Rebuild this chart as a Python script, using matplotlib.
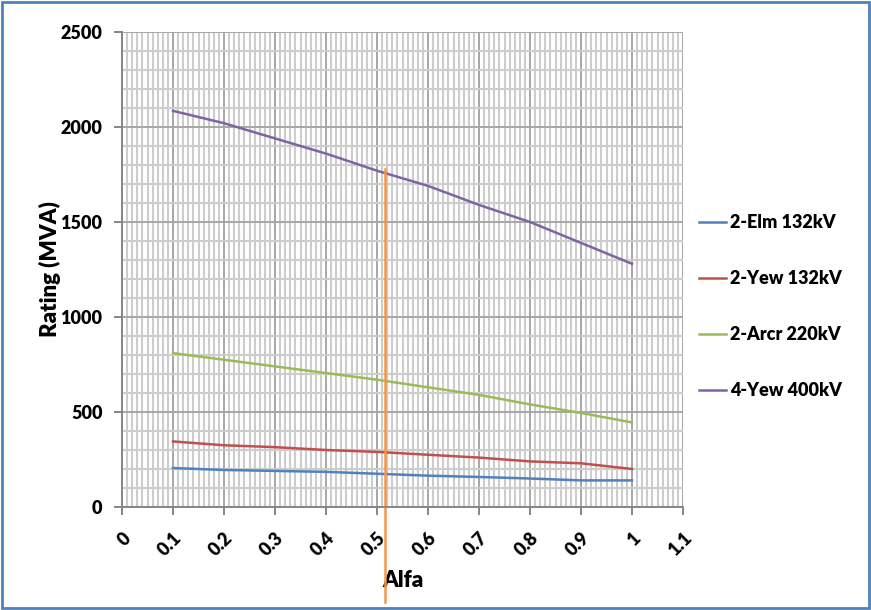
import matplotlib
matplotlib.use("Agg")
import matplotlib.pyplot as plt
from matplotlib.ticker import MultipleLocator
from matplotlib.patches import Rectangle
import numpy as np

alfa = [0.1, 0.2, 0.3, 0.4, 0.5, 0.6, 0.7, 0.8, 0.9, 1.0]
elm_132 = [205, 195, 190, 185, 175, 165, 158, 150, 140, 140]
yew_132 = [345, 325, 315, 300, 290, 275, 260, 240, 230, 200]
arcr_220 = [810, 775, 740, 705, 670, 630, 590, 540, 495, 445]
yew_400 = [2085, 2020, 1940, 1860, 1770, 1690, 1590, 1500, 1390, 1280]
series_names = ["2-Elm 132kV", "2-Yew 132kV", "2-Arcr 220kV", "4-Yew 400kV"]
marker_x = 0.516
marker_top = 1780

plt.rcParams['font.family'] = ['Lato', 'DejaVu Sans']
W = 'heavy'

fig = plt.figure(figsize=(8.71, 6.1), dpi=100)
ax = fig.add_axes([122/871, 1 - 507/610, (683-122)/871, (507-32)/610])

colors = ['#4F81BD', '#C0504D', '#9BBB59', '#8064A2']
for vals, name, c in zip([elm_132, yew_132, arcr_220, yew_400], series_names, colors):
    ax.plot(alfa, vals, color=c, lw=1.8, label=name)

ax.set_xlim(0, 1.1)
ax.set_ylim(0, 2500)
ax.xaxis.set_major_locator(MultipleLocator(0.1))
ax.xaxis.set_minor_locator(MultipleLocator(0.01))
ax.yaxis.set_major_locator(MultipleLocator(500))
ax.yaxis.set_minor_locator(MultipleLocator(100))
ax.grid(which='major', color='#a6a6a6', lw=1.4)
ax.grid(which='minor', color='#cdcdcd', lw=1.5)
ax.set_axisbelow(True)
for s in ['top', 'right']:
    ax.spines[s].set_visible(False)
for s in ['left', 'bottom']:
    ax.spines[s].set_color('#868686')
    ax.spines[s].set_linewidth(1.4)
ax.tick_params(which='major', direction='out', length=6, color='#868686', width=1.4)
ax.tick_params(which='minor', length=0)
ax.set_xticks([0, 0.1, 0.2, 0.3, 0.4, 0.5, 0.6, 0.7, 0.8, 0.9, 1.0, 1.1])
ax.set_xticklabels(['0', '0.1', '0.2', '0.3', '0.4', '0.5', '0.6', '0.7', '0.8', '0.9', '1', '1.1'],
                   rotation=45, ha='right', rotation_mode='anchor', fontsize=13, fontweight=W)
for lbl in ax.get_yticklabels():
    lbl.set_fontsize(13)
    lbl.set_fontweight(W)
ax.tick_params(axis='y', pad=8)
ax.tick_params(axis='x', pad=10)
ax.set_xlabel('Alfa', fontsize=16, fontweight=W, labelpad=8)
ax.set_ylabel('Rating (MVA)', fontsize=16, fontweight=W, labelpad=0)

# orange vertical marker
ax.plot([marker_x, marker_x], [marker_top, -500], color='#F79646', lw=1.8, clip_on=False)

leg = ax.legend(loc='upper left', bbox_to_anchor=(1.0, 0.65), frameon=False,
                prop={'weight': W, 'size': 13}, handlelength=1.5, handletextpad=0.2,
                labelspacing=2.15)

fig.patches.append(Rectangle((0.002, 0.003), 0.996, 0.994, transform=fig.transFigure,
                             fill=False, edgecolor='#4F81BD', lw=2))
fig.savefig('out.png', dpi=100)
